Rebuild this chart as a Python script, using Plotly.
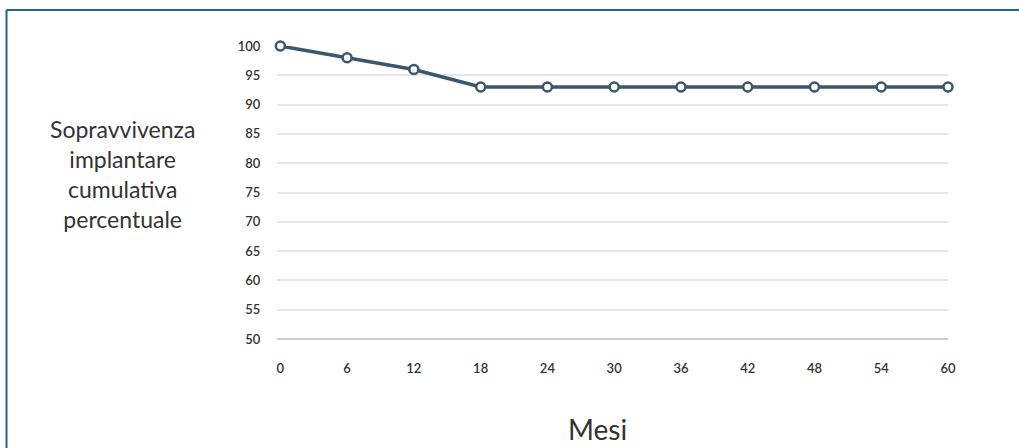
import plotly.graph_objects as go

months = [0, 6, 12, 18, 24, 30, 36, 42, 48, 54, 60]
survival = [100, 98, 96, 93, 93, 93, 93, 93, 93, 93, 93]
y_ticks = [50, 55, 60, 65, 70, 75, 80, 85, 90, 95, 100]
y_title = "Sopravvivenza<br>implantare<br>cumulativa<br>percentuale"
x_title = "Mesi"

W, H = 1019, 448
L, R, T, B = 277, 71, 46, 109
pw, ph = W - L - R, H - T - B

def px(xp):
    return (xp - L) / pw

def py(yp):
    return (H - B - yp) / ph

TICKFONT = dict(size=13, family="Lato, sans-serif", color="#333333", weight=600)

fig = go.Figure()
fig.add_trace(go.Scatter(
    x=months, y=survival, mode="lines+markers",
    line=dict(color="#3b566e", width=3.5),
    marker=dict(size=9, color="white", line=dict(color="#3b566e", width=2.5)),
    cliponaxis=False, showlegend=False,
))

fig.update_layout(
    width=W, height=H,
    margin=dict(l=L, r=R, t=T, b=B),
    paper_bgcolor="white", plot_bgcolor="white",
    font=dict(family="Lato, sans-serif", color="#333333"),
    xaxis=dict(
        range=[-0.3, 60], tickvals=months, ticktext=[str(m) for m in months],
        showgrid=False, zeroline=False, showline=False,
        ticks="outside", ticklen=17, tickcolor="rgba(0,0,0,0)",
        tickfont=TICKFONT,
    ),
    yaxis=dict(
        range=[50, 100], tickvals=y_ticks,
        showgrid=True, gridcolor="#e6e6e6", gridwidth=1.5,
        zeroline=False, showline=False,
        ticks="outside", ticklen=13, tickcolor="rgba(0,0,0,0)",
        tickfont=TICKFONT,
    ),
    annotations=[
        dict(text=y_title, xref="paper", yref="paper",
             x=px(122), y=py(174), xanchor="center", yanchor="middle",
             showarrow=False, align="center",
             font=dict(size=23, family="Lato, sans-serif", color="#333333")),
        dict(text=x_title, xref="paper", yref="paper",
             x=px(597), y=py(429), xanchor="center", yanchor="middle",
             showarrow=False,
             font=dict(size=28, family="Lato, sans-serif", color="#333333")),
    ],
    shapes=[
        dict(type="line", xref="paper", yref="paper",
             x0=0, x1=1, y0=0, y1=0,
             line=dict(color="#cccccc", width=2)),
        dict(type="line", xref="paper", yref="paper",
             x0=px(6.5), x1=px(6.5), y0=py(10), y1=py(448),
             line=dict(color="#1a6786", width=2)),
        dict(type="line", xref="paper", yref="paper",
             x0=px(6.5), x1=px(1019), y0=py(10), y1=py(10),
             line=dict(color="#1a6786", width=2)),
    ],
)

fig.write_html("out.html",
               config={"displayModeBar": False},
               post_script="document.body.style.margin='0';document.body.style.overflow='hidden';")
